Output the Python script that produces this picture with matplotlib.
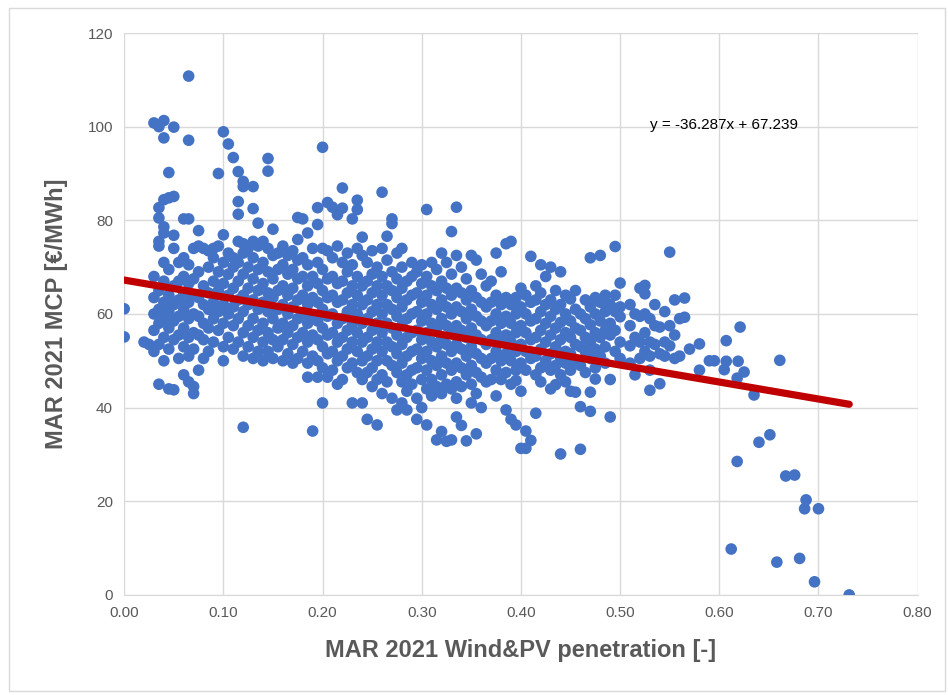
import matplotlib.pyplot as plt
from matplotlib.patches import Rectangle

# Wind&PV penetration bands (x) and the MCP values in each band
band_x = [0.000, 0.020, 0.025, 0.030, 0.035, 0.040, 0.045, 0.050, 0.055, 0.060,
          0.065, 0.070, 0.075, 0.080, 0.085, 0.090, 0.095, 0.100, 0.105, 0.110,
          0.115, 0.120, 0.125, 0.130, 0.135, 0.140, 0.145, 0.150, 0.155, 0.160,
          0.165, 0.170, 0.175, 0.180, 0.185, 0.190, 0.195, 0.200, 0.205, 0.210,
          0.215, 0.220, 0.225, 0.230, 0.235, 0.240, 0.245, 0.250, 0.255, 0.260,
          0.265, 0.270, 0.275, 0.280, 0.285, 0.290, 0.295, 0.300, 0.305, 0.310,
          0.315, 0.320, 0.325, 0.330, 0.335, 0.340, 0.345, 0.350, 0.355, 0.360,
          0.365, 0.370, 0.375, 0.380, 0.385, 0.390, 0.395, 0.400, 0.405, 0.410,
          0.415, 0.420, 0.425, 0.430, 0.435, 0.440, 0.445, 0.450, 0.455, 0.460,
          0.465, 0.470, 0.475, 0.480, 0.485, 0.490, 0.495, 0.500, 0.510, 0.515,
          0.520, 0.525, 0.530, 0.535, 0.540, 0.545, 0.550, 0.555, 0.560, 0.565,
          0.570, 0.580, 0.590]

band_mcp = [
    [61.1, 55.1],
    [54],
    [53.5],
    [100.8, 68, 63.5, 60, 56.5, 52],
    [100, 82.7, 80.5, 75.5, 74.5, 65, 61, 58, 53.5, 45],
    [101.3, 97.6, 77.3, 78.6, 71, 67, 62.5, 59, 55, 50, 84.4],
    [90.2, 84.8, 69.5, 64, 60.5, 57, 52.5, 44],
    [99.9, 85.1, 76.8, 74, 66, 62, 58.5, 54.5, 43.8],
    [71, 67, 63, 59.5, 55.5, 50.5],
    [80.3, 72, 68, 64.5, 61, 57, 53, 47],
    [110.8, 97.1, 80.3, 70.5, 66.5, 62.5, 59, 55, 51, 45.5],
    [74, 67.5, 64, 60, 56, 52.5, 44.5, 43],
    [77.8, 74.5, 69, 63.5, 59.5, 55.5, 48],
    [74, 66, 62, 58, 54.5, 50.5],
    [73.5, 70, 64.5, 61, 57, 52],
    [74, 72, 67, 62.5, 59, 54],
    [90, 74.5, 69, 65, 60.5, 56.5],
    [98.9, 76.9, 71, 66.5, 62, 58, 53, 50],
    [96.3, 73, 68.5, 64, 60, 55],
    [93.4, 72, 70, 65.5, 61.5, 57.5, 52.5],
    [90.4, 84, 81.3, 75.5, 71, 67, 63, 59, 54],
    [88.3, 87.2, 75, 73, 68.5, 64, 60.5, 56, 51, 35.8],
    [74, 70, 65.5, 62, 57.5, 53],
    [87.2, 82.5, 75.5, 72, 67.5, 63, 59, 55, 50.5],
    [79.4, 74.5, 69.5, 65, 61, 56.5, 52],
    [75.5, 71, 66.5, 62.5, 58, 54, 50],
    [93.2, 90.5, 74, 69, 64.5, 60.5, 56, 52],
    [78.1, 72.5, 67.5, 63.5, 59, 54.5, 50.5],
    [73, 69.5, 65, 61, 57, 53],
    [74.5, 70.5, 66, 62, 58, 54.5, 50],
    [72.5, 68.5, 64, 60, 56, 51.5],
    [73.5, 69.5, 65.5, 61.5, 57.5, 53.5, 49.5],
    [80.6, 75.9, 71.5, 67.5, 63, 59, 55, 50.5],
    [80.3, 72, 68, 64, 60, 56, 52],
    [77.3, 70.5, 66, 62, 58, 54, 49.5, 46.5],
    [74, 68, 63.5, 59.5, 55.5, 51, 35],
    [79.1, 82.7, 71, 66.5, 62.5, 58.5, 54.5, 50, 46.5],
    [95.6, 74, 69.5, 65, 61, 57, 53, 48.5, 41],
    [83.8, 73.5, 67.5, 63.5, 59.5, 55.5, 51.5, 46.5],
    [82.8, 72, 68, 64, 60, 56, 52, 48],
    [81.2, 74.5, 66.5, 62.5, 58, 54, 50, 45],
    [86.9, 82.6, 71, 67, 63, 59, 55, 51, 46],
    [73, 69, 64.5, 60.5, 56.5, 52.5, 48.5],
    [80.3, 70.5, 66, 62, 58, 54, 49.5, 41],
    [84.3, 82.3, 74, 68, 64, 60, 56, 52, 47.5],
    [76.4, 72.5, 66, 62, 58, 54, 50, 46, 41],
    [71, 67, 63, 59, 55, 51, 47.5, 37.5],
    [73.5, 68.5, 64.5, 60.5, 56.5, 52.5, 48.5, 44.5],
    [70, 66, 62, 58, 54, 50, 46, 36.3],
    [86, 74, 68, 64, 60, 56, 52, 47, 43],
    [76.6, 71.5, 66, 62, 58, 54, 50, 45.5],
    [80.3, 79.3, 69, 65, 61, 57, 53, 49, 42],
    [73, 67.5, 63.5, 59.5, 55.5, 51.5, 47.5, 39.5],
    [74, 70, 65.5, 61.5, 57.5, 53.5, 49.5, 45.5, 41],
    [67, 63, 59, 55, 51, 47, 43.5, 39.5],
    [71, 68, 64, 60, 56, 52, 48, 45],
    [69, 64.5, 60.5, 56.5, 52.5, 48.5, 42, 37.5],
    [70.5, 66.5, 62.5, 58.5, 54.5, 50.5, 46, 40],
    [82.3, 68, 64, 60, 56, 52, 48, 44, 36.3],
    [71, 66, 62, 58, 54, 50, 46, 42.5],
    [69.5, 65, 61, 57, 53, 49, 44.5, 33.1],
    [73, 67, 63, 59, 55, 51, 47, 43, 34.9],
    [71, 65.5, 61.5, 57.5, 53.5, 49.5, 45, 32.8],
    [77.6, 68.5, 64, 60, 56, 52, 48, 44, 33.1],
    [82.8, 72.5, 65.5, 61.5, 57.5, 53.5, 49.5, 45.5, 42, 38],
    [70, 64.5, 60.5, 56.5, 52.5, 48.5, 44.5, 36.2],
    [67.5, 63, 59, 55, 51, 47, 32.9],
    [72.5, 65, 61, 57, 53, 49, 45, 41],
    [71.5, 63.5, 59.5, 55.5, 51.5, 47.5, 43, 34.4],
    [68.5, 62.5, 58.5, 54.5, 50.5, 46.5, 40],
    [66, 61.5, 57.5, 53.5, 49.5, 45.5],
    [67, 62.5, 58.5, 54.5, 50.5, 46],
    [73, 64, 60, 56, 52, 48, 42.5],
    [69, 62, 58, 54, 50, 46],
    [75, 63.5, 59.5, 55.5, 51.5, 47.5, 39.5],
    [75.5, 62, 58, 54, 50, 45, 37.5],
    [63.5, 60, 56, 52, 48, 45.8, 36.3],
    [65.5, 61.5, 57.5, 53.5, 49.5, 43.5, 31.3],
    [64, 60, 56, 52, 48, 35, 31.3],
    [72.3, 62.5, 58.5, 54.5, 50.5, 33],
    [66, 63, 59, 55, 51, 47, 38.8],
    [70.5, 64.5, 60.5, 56.5, 52.5, 48.5, 45.5],
    [68, 62, 58, 54, 50],
    [70, 63, 59.5, 55.5, 51.5, 48, 44],
    [65, 61, 57, 53, 49, 44.9],
    [69, 62, 58.2, 54.5, 50.5, 47, 30.1],
    [64, 60, 56, 52, 49.5, 45.5],
    [63.2, 58.5, 55, 51.5, 48, 43.5],
    [65, 61, 57, 53.5, 50, 43.3],
    [60, 56.5, 53, 49, 40.2, 31.1],
    [63, 59, 55, 52, 47.5],
    [72, 61.5, 57.7, 54, 50.5, 43.3, 39.2],
    [63.5, 60, 56, 52.5, 48.5, 46.1],
    [72.5, 62.5, 58.5, 55, 51],
    [64, 60.5, 56.5, 53, 49.5],
    [62, 58, 55.5, 46, 38],
    [74.4, 64, 60.5, 56.5, 52],
    [66.6, 61.5, 59.4, 54, 50.5],
    [62, 57.5, 53.2, 49.5],
    [60, 55, 47],
    [65.5, 59.5, 54, 50.5],
    [66.1, 64.3, 60, 56, 52],
    [59, 54, 51, 43.7, 48],
    [62, 57.5, 53.5],
    [57.2, 51.5, 45.1],
    [60.5, 54, 51],
    [73.2, 57.5, 53.2],
    [63, 55.5, 50.5],
    [59, 51],
    [63.4, 59.3],
    [52.5],
    [53.6, 48],
    [50],
]

# isolated points on the right-hand tail
tail_x = [0.595, 0.607, 0.607, 0.605, 0.619, 0.618, 0.621, 0.625, 0.635, 0.661,
          0.612, 0.618, 0.640, 0.651, 0.658, 0.667, 0.676, 0.681, 0.686, 0.6875,
          0.696, 0.700, 0.731]
tail_mcp = [50, 54.3, 49.9, 48.1, 49.9, 46.3, 57.2, 47.6, 42.7, 50.1,
            9.8, 28.5, 32.6, 34.2, 7.0, 25.4, 25.6, 7.8, 18.4, 20.3,
            2.8, 18.4, 0.0]

# linear trend shown on the chart
slope = -36.287
intercept = 67.239

xs = []
ys = []
for bx, vals in zip(band_x, band_mcp):
    for v in vals:
        xs.append(bx)
        ys.append(v)
xs += tail_x
ys += tail_mcp

grey = '#595959'
plt.rcParams['font.family'] = ['Liberation Sans', 'DejaVu Sans']

fig = plt.figure(figsize=(9.48, 6.95), dpi=100)
ax = fig.add_axes([0.131, 0.144, 0.837, 0.8085])

ax.scatter(xs, ys, s=70, color='#4472C4', edgecolors='none', zorder=3)

x_end = max(xs)
ax.plot([0, x_end], [intercept, intercept + slope * x_end], color='#C00000',
        lw=5.2, solid_capstyle='round', zorder=4)

ax.text(0.53, 100.4, 'y = -36.287x + 67.239', fontsize=11, color='black',
        va='center', ha='left')

ax.set_xlim(0, 0.8)
ax.set_ylim(0, 120)
ax.set_xticks([i / 10 for i in range(9)])
ax.set_xticklabels(['%.2f' % (i / 10) for i in range(9)])
ax.set_yticks(range(0, 121, 20))
ax.grid(True, color='#D9D9D9', lw=1, zorder=0)
ax.set_axisbelow(True)
for side in ['top', 'right', 'left']:
    ax.spines[side].set_visible(False)
ax.spines['bottom'].set_color('#D9D9D9')
ax.tick_params(length=0, labelsize=11, colors=grey, pad=8)

ax.set_xlabel('MAR 2021 Wind&PV penetration [-]', fontsize=17, fontweight='bold',
              color=grey, labelpad=14)
ax.set_ylabel('MAR 2021 MCP [€/MWh]', fontsize=17, fontweight='bold',
              color=grey, labelpad=14)

# thin frame round the whole chart
fig.patches.append(Rectangle((0.009, 0.006), 0.988, 0.982, transform=fig.transFigure,
                             fill=False, edgecolor='#D9D9D9', lw=1))

fig.savefig('out.png', dpi=100)
